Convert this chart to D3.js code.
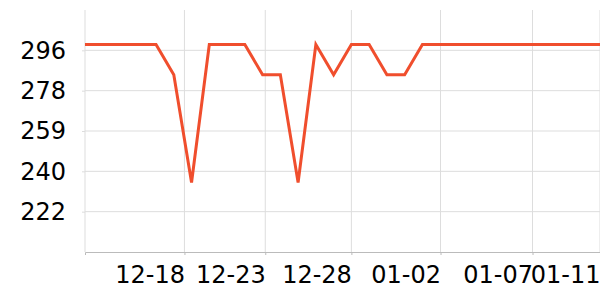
<!DOCTYPE html>
<html>
<head>
<meta charset="utf-8">
<script src="https://cdn.jsdelivr.net/npm/d3@7"></script>
<style>
  body { margin: 0; background: #fff; }
  svg { display: block; font-family: "DejaVu Sans", sans-serif; }
</style>
</head>
<body>
<div id="chart"></div>
<script>
// one point per day, 12-13 .. 01-11
const dates = [
  "12-13", "12-14", "12-15", "12-16", "12-17", "12-18", "12-19", "12-20", "12-21", "12-22",
  "12-23", "12-24", "12-25", "12-26", "12-27", "12-28", "12-29", "12-30", "12-31", "01-01",
  "01-02", "01-03", "01-04", "01-05", "01-06", "01-07", "01-08", "01-09", "01-10", "01-11"
];
const values = [
  299, 299, 299, 299, 299, 285, 235, 299, 299, 299,
  285, 285, 235, 299, 285, 299, 299, 285, 285, 299,
  299, 299, 299, 299, 299, 299, 299, 299, 299, 299
];

// x tick labels and where they sit along the day index
const xTickLabels = ["12-18", "12-23", "12-28", "01-02", "01-07", "01-11"];
const xTickIndex = [5.6, 10.15, 15, 20.02, 25.2, 29];

const yDomain = [202.8, 315];
const yTickCount = 6;

const margin = {
  top: 10,
  bottom: 48,
  right: 0,
  left: 85
};

const width = 600;
const height = 300;

const svg = d3.select("#chart")
  .append("svg")
  .attr("width", width)
  .attr("height", height);

const x = d3.scaleLinear()
  .domain([0, dates.length - 1])
  .range([margin.left, width - margin.right]);

const y = d3.scaleLinear()
  .domain(yDomain)
  .range([height - margin.bottom, margin.top]);

// evenly split y range, end values not labelled
const yStep = (yDomain[1] - yDomain[0]) / yTickCount;
const yTicks = d3.range(1, yTickCount).map(i => yDomain[0] + i * yStep);

// grid
const grid = svg.append("g");

grid.selectAll(".vgrid")
  .data(xTickIndex)
  .join("line")
  .attr("x1", d => x(d))
  .attr("x2", d => x(d))
  .attr("y1", margin.top)
  .attr("y2", height - margin.bottom)
  .attr("stroke", "#dddddd")
  .attr("stroke-width", 1);

grid.append("line")
  .attr("x1", x(0))
  .attr("x2", x(0))
  .attr("y1", margin.top)
  .attr("y2", height - margin.bottom)
  .attr("stroke", "#dddddd");

grid.selectAll(".hgrid")
  .data(yTicks)
  .join("line")
  .attr("x1", margin.left)
  .attr("x2", width - margin.right)
  .attr("y1", d => y(d))
  .attr("y2", d => y(d))
  .attr("stroke", "#dddddd")
  .attr("stroke-width", 1);

// y axis
const yAxis = d3.axisLeft(y)
  .tickValues(yTicks)
  .tickFormat(d => Math.round(d))
  .tickSize(3)
  .tickPadding(16);

const yAxisGroup = svg.append("g")
  .attr("transform", `translate(${margin.left},0)`)
  .call(yAxis);

yAxisGroup.select(".domain").remove();
yAxisGroup.selectAll(".tick line").attr("stroke", "#dddddd");
yAxisGroup.selectAll(".tick text")
  .attr("font-size", 24)
  .attr("font-family", "DejaVu Sans")
  .attr("fill", "#000");

// x axis
const xAxis = d3.axisBottom(x)
  .tickValues(xTickIndex)
  .tickFormat((d, i) => xTickLabels[i])
  .tickSize(3)
  .tickSizeOuter(3);

const xAxisGroup = svg.append("g")
  .attr("transform", `translate(0,${height - margin.bottom})`)
  .call(xAxis);

xAxisGroup.select(".domain").attr("stroke", "#bbbbbb");
xAxisGroup.selectAll(".tick line").attr("stroke", "#bbbbbb");
xAxisGroup.selectAll(".tick text")
  .attr("font-size", 24)
  .attr("font-family", "DejaVu Sans")
  .attr("fill", "#000")
  .attr("text-anchor", "end")
  .attr("y", 31)
  .attr("dy", 0);

// series line
const line = d3.line()
  .x((d, i) => x(i))
  .y(d => y(d));

svg.append("path")
  .datum(values)
  .attr("fill", "none")
  .attr("stroke", "#f04e2d")
  .attr("stroke-width", 3)
  .attr("stroke-linejoin", "miter")
  .attr("d", line);
</script>
</body>
</html>
